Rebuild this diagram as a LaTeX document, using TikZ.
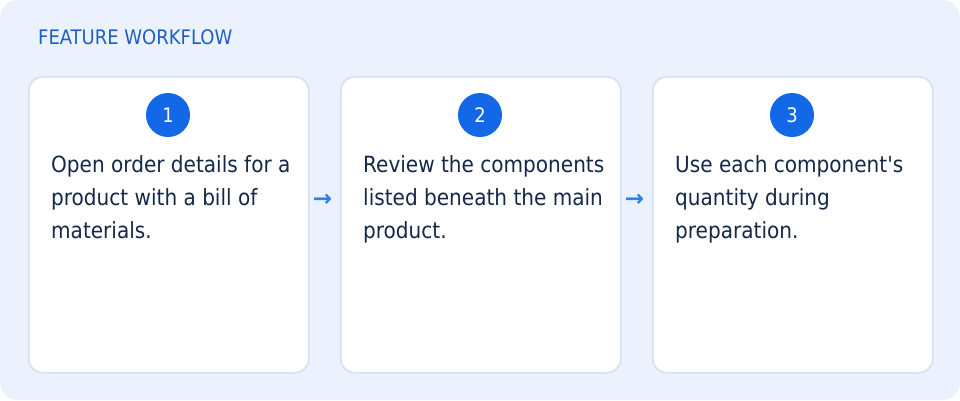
\documentclass[tikz,border=0pt]{standalone}
\usepackage{fontspec}
\setmainfont{DejaVu Sans Condensed}
\newfontfamily\arrowfont{DejaVu Sans Bold}
\definecolor{bgblue}{HTML}{EBF2FD}
\definecolor{cardborder}{HTML}{D3E1F6}
\definecolor{textnavy}{HTML}{15284A}
\definecolor{titleblue}{HTML}{1D5FC2}
\definecolor{badgeblue}{HTML}{1368E8}
\definecolor{arrowblue}{HTML}{2F7FE8}
\tikzset{
  card/.style={draw=cardborder, line width=1.6pt, fill=white, rounded corners=14pt,
    minimum width=280pt, minimum height=296pt, inner sep=0pt, anchor=north west},
  badge/.style={circle, fill=badgeblue, minimum size=44pt, inner sep=0pt,
    text=white, font=\fontsize{20}{24}\selectfont},
  steptext/.style={anchor=north west, inner sep=0pt, align=left, text=textnavy,
    font=\fontsize{22.3}{33}\selectfont},
  flowarrow/.style={text=arrowblue, inner sep=0pt, font=\arrowfont\fontsize{23}{26}\selectfont},
  titletext/.style={anchor=base west, inner sep=0pt, text=titleblue,
    font=\fontsize{20}{24}\selectfont}
}
\begin{document}
\begin{tikzpicture}[x=1pt,y=-1pt]
\useasboundingbox (0,0) rectangle (960,400);
\fill[bgblue, rounded corners=18pt] (0,0) rectangle (960,400);
\node[titletext] (title) at (38,44) {FEATURE WORKFLOW};

\node[card] (c1) at (28,76) {};
\node[card] (c2) at (340,76) {};
\node[card] (c3) at (652,76) {};

\node[badge] (b1) at (168,115) {1};
\node[badge] (b2) at (480,115) {2};
\node[badge] (b3) at (792,115) {3};

\node[steptext] (t1) at (51,155.5) {Open order details for a\\product with a bill of\\materials.};
\node[steptext] (t2) at (363,155.5) {Review the components\\listed beneath the main\\product.};
\node[steptext] (t3) at (675,155.5) {Use each component\textquotesingle s\\quantity during\\preparation.};

\node[flowarrow] (a1) at (322.5,200) {→};
\node[flowarrow] (a2) at (634.5,200) {→};
\end{tikzpicture}
\end{document}
